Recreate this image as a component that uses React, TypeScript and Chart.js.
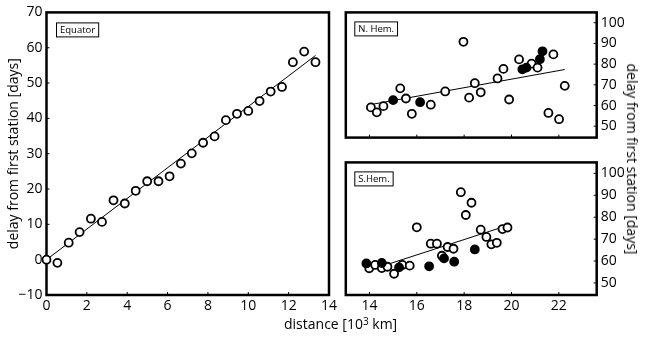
import React, { useEffect, useRef } from "react";
import { Chart, registerables } from "chart.js";

Chart.register(...registerables);

// ---------- data ----------
const eqX = [0, 0.54, 1.1, 1.64, 2.2, 2.75, 3.32, 3.88, 4.42, 4.99, 5.55, 6.1, 6.66, 7.2, 7.76, 8.33, 8.89, 9.44, 10.0, 10.56, 11.11, 11.67, 12.21, 12.77, 13.33];
const eqY = [0, -0.9, 4.8, 7.8, 11.6, 10.7, 16.8, 15.9, 19.5, 22.2, 22.2, 23.6, 27.2, 30.1, 33.1, 34.9, 39.5, 41.3, 42.1, 44.9, 47.6, 48.9, 55.9, 58.9, 55.9];
const eqFitX = [0, 13.33];
const eqFitY = [0, 57.8];

const nOpenX = [14.06, 14.31, 14.59, 15.3, 15.54, 15.79, 16.59, 17.2, 17.97, 18.21, 18.45, 18.7, 19.41, 19.66, 19.9, 20.32, 20.85, 21.1, 21.56, 21.77, 22.01, 22.25];
const nOpenY = [59.1, 56.7, 59.7, 68.3, 63.4, 56.0, 60.4, 66.8, 90.8, 63.8, 70.8, 66.4, 73.1, 77.7, 62.9, 82.3, 80.2, 78.3, 56.4, 84.7, 53.4, 69.5];
const nFillX = [15.0, 16.14, 20.46, 20.63, 21.2, 21.31];
const nFillY = [62.6, 61.6, 77.5, 78.3, 82.4, 86.2];
const nFitX = [14.03, 22.25];
const nFitY = [60.4, 77.4];

const sOpenX = [13.99, 14.24, 14.52, 14.76, 15.04, 15.39, 15.7, 16.0, 16.59, 16.85, 17.06, 17.3, 17.55, 17.86, 18.07, 18.31, 18.7, 18.94, 19.15, 19.38, 19.62, 19.83];
const sOpenY = [56.7, 58.2, 56.8, 57.4, 54.2, 58.2, 57.9, 75.4, 67.9, 67.9, 62.4, 66.4, 65.6, 91.4, 81.0, 86.6, 74.3, 71.0, 67.6, 68.3, 74.6, 75.3];
const sFillX = [13.87, 14.52, 15.25, 16.52, 17.15, 17.58, 18.45];
const sFillY = [58.9, 59.1, 57.1, 57.6, 61.2, 59.7, 65.3];
const sFitX = [14.8, 19.83];
const sFitY = [58.6, 76.2];

const panelLabels = ["Equator", "N. Hem.", "S.Hem."];
const yTitle = "delay from first station [days]";

const FONT = '"Open Sans", sans-serif';

const pts = (xs: number[], ys: number[]) => xs.map((x, i) => ({ x, y: ys[i] }));

const framePlugin = {
  id: "frameTicks",
  beforeDatasetsDraw(chart: any, _args: any, opts: any) {
    const { ctx, chartArea: a, scales } = chart;
    ctx.save();
    ctx.strokeStyle = "#000";
    ctx.lineWidth = 1;
    const tl = 3;
    scales.x.ticks.forEach((t: any) => {
      const px = scales.x.getPixelForValue(t.value);
      ctx.beginPath();
      ctx.moveTo(px, a.bottom);
      ctx.lineTo(px, a.bottom - tl);
      ctx.stroke();
    });
    scales.y.ticks.forEach((t: any) => {
      const py = scales.y.getPixelForValue(t.value);
      ctx.beginPath();
      if (opts.ySide === "left") {
        ctx.moveTo(a.left, py);
        ctx.lineTo(a.left + tl, py);
      } else {
        ctx.moveTo(a.right, py);
        ctx.lineTo(a.right - tl, py);
      }
      ctx.stroke();
    });
    ctx.lineWidth = 2.5;
    ctx.strokeRect(a.left, a.top, a.width, a.height);
    // label box
    ctx.font = "9.5px " + FONT;
    const w = ctx.measureText(opts.label).width + 7;
    const bx = a.left + opts.boxX;
    const by = a.top + opts.boxY;
    ctx.fillStyle = "#fff";
    ctx.fillRect(bx, by, w, 14);
    ctx.lineWidth = 1;
    ctx.strokeRect(bx + 0.5, by + 0.5, w, 14);
    ctx.fillStyle = "#000";
    ctx.textBaseline = "middle";
    ctx.fillText(opts.label, bx + 4, by + 7.5);
    ctx.restore();
  },
};

function datasets(openX: number[], openY: number[], fillX: number[], fillY: number[], fitX: number[], fitY: number[]) {
  const ds: any[] = [
    {
      type: "line",
      data: pts(fitX, fitY),
      borderColor: "#000",
      borderWidth: 1,
      pointRadius: 0,
      order: 3,
      clip: false,
    },
    {
      type: "scatter",
      data: pts(openX, openY),
      backgroundColor: "#fff",
      borderColor: "#000",
      borderWidth: 1.8,
      pointRadius: 4,
      order: 2,
      clip: false,
    },
  ];
  if (fillX.length) {
    ds.push({
      type: "scatter",
      data: pts(fillX, fillY),
      backgroundColor: "#000",
      borderColor: "#000",
      borderWidth: 1.8,
      pointRadius: 4,
      order: 1,
      clip: false,
    });
  }
  return ds;
}

type Spec = {
  left: number; top: number; width: number; height: number;
  config: any;
};

function ChartBox({ spec }: { spec: Spec }) {
  const ref = useRef<HTMLCanvasElement>(null);
  useEffect(() => {
    const c = new Chart(ref.current as HTMLCanvasElement, spec.config);
    return () => c.destroy();
  }, []);
  return (
    <div style={{ position: "absolute", left: spec.left, top: spec.top, width: spec.width, height: spec.height }}>
      <canvas ref={ref} width={spec.width} height={spec.height} style={{ width: spec.width, height: spec.height, display: "block" }} />
    </div>
  );
}

const minus = (v: any) => String(v).replace("-", "\u2212");

const baseOpts = (extra: any) => ({
  responsive: false,
  animation: false,
  devicePixelRatio: 1,
  events: [],
  plugins: { legend: { display: false }, tooltip: { enabled: false }, ...extra.plugins },
  layout: extra.layout,
  scales: extra.scales,
});

const leftSpec: Spec = {
  left: 0, top: 0, width: 340, height: 339,
  config: {
    data: { datasets: datasets(eqX, eqY, [], [], eqFitX, eqFitY) },
    plugins: [framePlugin],
    options: baseOpts({
      plugins: { frameTicks: { ySide: "left", label: panelLabels[0], boxX: 9.5, boxY: 10 } },
      layout: { padding: { top: 10, right: 8.5, left: 0, bottom: 0 } },
      scales: {
        x: {
          type: "linear", min: 0, max: 14,
          grid: { display: false, drawTicks: false },
          border: { display: false },
          ticks: { stepSize: 2, padding: 3, color: "#000", font: { size: 14, family: FONT } },
          afterFit: (s: any) => { s.height = 44; },
        },
        y: {
          type: "linear", min: -10, max: 70,
          grid: { display: false, drawTicks: false },
          border: { display: false },
          ticks: { stepSize: 10, padding: 4, color: "#000", font: { size: 14, family: FONT }, callback: (v: any) => minus(v) },
          title: { display: true, text: yTitle, color: "#000", font: { size: 14, family: FONT }, padding: { top: 6, bottom: 0 } },
          afterFit: (s: any) => { s.width = 46.5; },
        },
      },
    }),
  },
};

const rightCommon = (label: string, showX: boolean, h: number) => ({
  plugins: { frameTicks: { ySide: "right", label, boxX: 8.5, boxY: 9 } },
  layout: { padding: { top: 9.3, left: 4.7, right: 0, bottom: 0 } },
  scales: {
    x: {
      type: "linear", min: 13, max: 23.6,
      grid: { display: false, drawTicks: false },
      border: { display: false },
      ticks: { display: showX, stepSize: 2, includeBounds: false, padding: 3, color: "#000", font: { size: 14, family: FONT } },
      afterFit: (s: any) => { s.height = h; },
    },
    y: {
      type: "linear", position: "right", min: 44.5, max: 105,
      grid: { display: false, drawTicks: false },
      border: { display: false },
      ticks: { stepSize: 10, includeBounds: false, padding: 4, color: "#000", font: { size: 14, family: FONT } },
      afterFit: (s: any) => { s.width = 50.3; },
    },
  },
});

const nSpec: Spec = {
  left: 340, top: 0, width: 307, height: 150,
  config: {
    data: { datasets: datasets(nOpenX, nOpenY, nFillX, nFillY, nFitX, nFitY) },
    plugins: [framePlugin],
    options: baseOpts(rightCommon(panelLabels[1], false, 5)),
  },
};

const sSpec: Spec = {
  left: 340, top: 150, width: 307, height: 189,
  config: {
    data: { datasets: datasets(sOpenX, sOpenY, sFillX, sFillY, sFitX, sFitY) },
    plugins: [framePlugin],
    options: baseOpts(rightCommon(panelLabels[2], true, 44)),
  },
};

export default function App() {
  return (
    <div style={{ position: "fixed", left: 0, top: 0, width: 647, height: 339, background: "#fff", overflow: "hidden", fontFamily: FONT }}>
      <ChartBox spec={leftSpec} />
      <ChartBox spec={nSpec} />
      <ChartBox spec={sSpec} />
      <div style={{ position: "absolute", left: 284, top: 315, fontSize: 14, lineHeight: "18px", whiteSpace: "nowrap", color: "#000" }}>
        distance [10<sup style={{ fontSize: 10, verticalAlign: "top", lineHeight: "12px" }}>3</sup> km]
      </div>
      <div style={{ position: "absolute", left: 632, top: 159, fontSize: 14, lineHeight: "18px", whiteSpace: "nowrap", color: "#000", transform: "translate(-50%, -50%) rotate(90deg)" }}>
        {yTitle}
      </div>
    </div>
  );
}
